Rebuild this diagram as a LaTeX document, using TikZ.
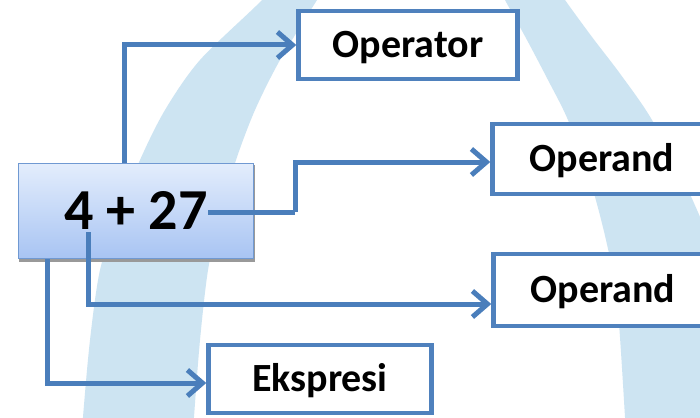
\documentclass[tikz,border=0pt]{standalone}
\usepackage{fontspec}
\setmainfont{Carlito}
\usetikzlibrary{arrows.meta,calc}
\definecolor{bandblue}{HTML}{CDE4F2}
\definecolor{linkblue}{HTML}{4A7EBB}
\definecolor{boxblue}{HTML}{4F81BD}
\definecolor{mainedge}{HTML}{7099D2}
\definecolor{maintop}{HTML}{E3EDFC}
\definecolor{mainbot}{HTML}{A8C4F3}
\tikzset{
  lbox/.style={draw=boxblue, line width=4.5pt, fill=white, minimum width=219pt,
    minimum height=68pt, inner sep=0pt, font=\fontsize{40}{48}\selectfont\bfseries,
    text height=25pt, text depth=0pt},
  mainbox/.style={draw=mainedge, line width=1.5pt, top color=maintop, bottom color=mainbot,
    minimum width=235pt, minimum height=95pt, inner sep=0pt,
    font=\fontsize{58}{64}\selectfont\bfseries, text height=36pt, text depth=0pt},
  conn/.style={draw=linkblue, line width=5pt, -{Straight Barb[length=15pt,width=26pt]}},
  conline/.style={draw=linkblue, line width=5pt}
}
\begin{document}
\begin{tikzpicture}[x=1pt,y=-1pt]
\clip (0,0) rectangle (700,417);
\fill[white] (0,0) rectangle (700,417);
% background arch bands
\fill[bandblue] plot[smooth] coordinates {(275,-20)(262,0)(200,60)(165,110)(140,160)(118,215)(100,270)(90,340)(83,417)(82,440)}
  -- plot[smooth] coordinates {(193,440)(194,417)(200,340)(208,270)(220,215)(236,160)(255,110)(280,60)(317,0)(330,-20)} -- cycle;
\fill[bandblue] plot[smooth] coordinates {(495,-20)(505,0)(527,40)(548,80)(568,120)(590,180)(606,240)(617,300)(625,417)(626,440)}
  -- (800,440) -- plot[smooth] coordinates {(745,330)(718,260)(688,190)(652,120)(621,75)(592,37)(565,0)(552,-20)} -- cycle;
% main box with shadow
\fill[black!40] (19,165) rectangle (255,262);
\node[mainbox] (main) at (136,211) {4 + 27};
% target boxes
\node[lbox] (opr) at (408,45) {Operator};
\node[lbox, minimum height=70pt] (op1) at (602,159) {Operand};
\node[lbox, minimum height=72pt] (op2) at (603,290) {Operand};
\node[lbox, minimum width=223pt, minimum height=68pt] (eks) at (320,379) {Ekspresi};
% connector coordinates
\coordinate (s1) at (124,163);
\coordinate (s2) at (208,212);
\coordinate (k2) at (295,212);
\coordinate (s3) at (88,232);
\coordinate (s4) at (47,259);
\draw[conn] (s1) |- (opr.west);
\draw[conline] (s2) -- (k2);
\draw[conn] (k2) |- ($(op1.west)+(0,3)$);
\draw[conn] (s3) |- ($(op2.west)+(0,14)$);
\draw[conn] (s4) |- ($(eks.west)+(0,4)$);
\end{tikzpicture}
\end{document}
